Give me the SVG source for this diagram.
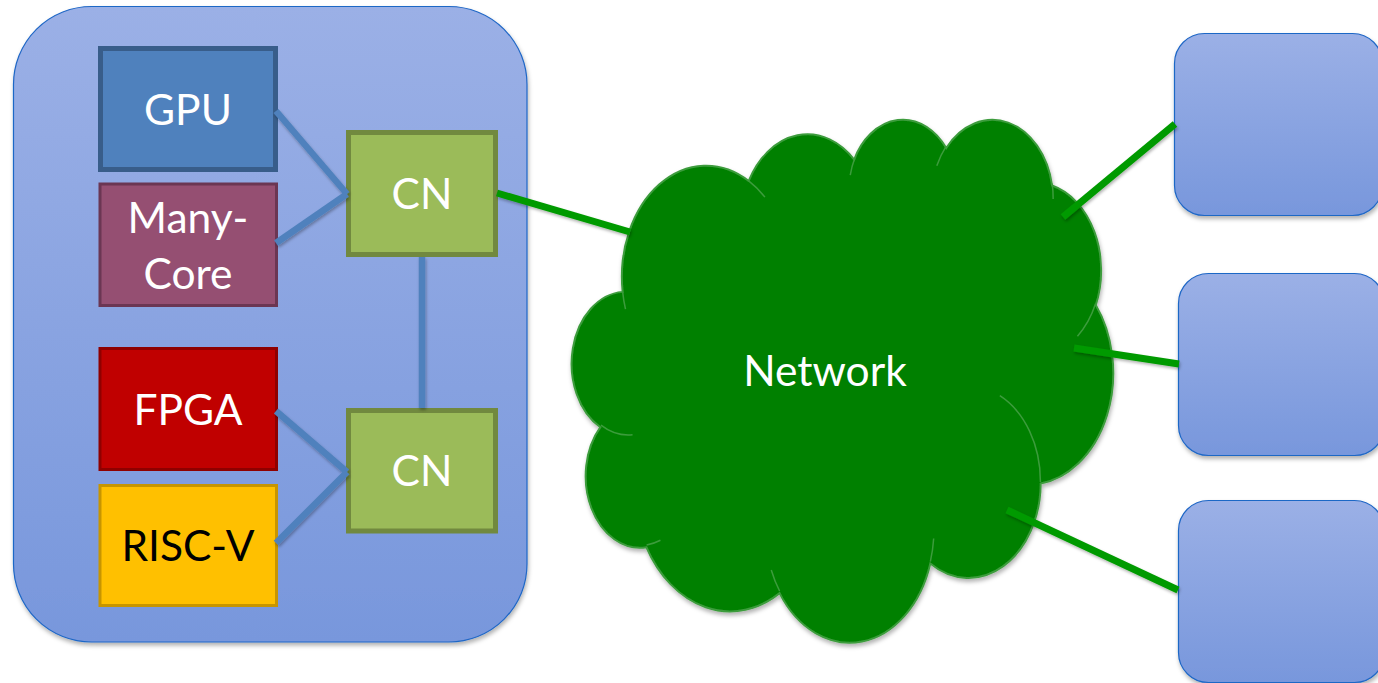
<svg xmlns="http://www.w3.org/2000/svg" width="1378" height="683" viewBox="0 0 1378 683">
  <defs>
    <linearGradient id="blueGrad" x1="0" y1="0" x2="0" y2="1">
      <stop offset="0" stop-color="#9bb0e6"/>
      <stop offset="1" stop-color="#7897dc"/>
    </linearGradient>
    <filter id="sh" filterUnits="userSpaceOnUse" x="0" y="0" width="1378" height="683">
      <feDropShadow dx="1" dy="3" stdDeviation="2.2" flood-color="#000" flood-opacity="0.3"/>
    </filter>
    <filter id="shl" filterUnits="userSpaceOnUse" x="0" y="0" width="1378" height="683">
      <feDropShadow dx="1" dy="2" stdDeviation="1.5" flood-color="#000" flood-opacity="0.3"/>
    </filter>
  </defs>
  <style>
    .lbl { font-family: "Lato", "Carlito", "Liberation Sans", sans-serif; font-size: 42.5px; fill: #ffffff; text-anchor: middle; }
    .dark { fill: #000000; }
    .panel { fill: url(#blueGrad); stroke: #1f67c6; stroke-width: 1.2; }
    .cn { fill: #9bbb59; stroke: #71893f; stroke-width: 5; }
    .blue { stroke: #4f81bd; stroke-width: 6.5; fill: none; }
    .green { stroke: #009a00; stroke-width: 7; fill: none; }
    .cloud { fill: #008000; stroke: #3c9c3c; stroke-width: 2; vector-effect: non-scaling-stroke; }
    .cloudDetail { fill: none; stroke: #3c9c3c; stroke-width: 1.5; vector-effect: non-scaling-stroke; }
  </style>

  <g id="container" filter="url(#sh)">
    <rect class="panel" x="13.5" y="6.5" width="513.5" height="635.5" rx="78" ry="78"/>
  </g>

  <g id="gpu">
    <rect x="100.5" y="48.5" width="175" height="121" fill="#4f81bd" stroke="#385d8a" stroke-width="5"/>
    <text class="lbl" x="188" y="125">GPU</text>
  </g>
  <g id="manycore">
    <rect x="100" y="184" width="176.5" height="121.5" fill="#954f72" stroke="#6b3653" stroke-width="3"/>
    <text class="lbl" x="188" y="233">Many-</text>
    <text class="lbl" x="188" y="289">Core</text>
  </g>
  <g id="fpga">
    <rect x="100" y="348.5" width="176.5" height="121" fill="#c00000" stroke="#8f0000" stroke-width="3"/>
    <text class="lbl" x="188" y="425">FPGA</text>
  </g>
  <g id="riscv">
    <rect x="100" y="485.5" width="176.5" height="120" fill="#ffc000" stroke="#c79500" stroke-width="3"/>
    <text class="lbl dark" x="188" y="561">RISC-V</text>
  </g>
  <g id="cn1">
    <rect class="cn" x="348.5" y="132.5" width="147" height="122"/>
    <text class="lbl" x="422" y="209">CN</text>
  </g>
  <g id="cn2">
    <rect class="cn" x="348.5" y="410.5" width="147" height="120.5"/>
    <text class="lbl" x="422" y="486">CN</text>
  </g>

  <g id="network">
    <g filter="url(#sh)">
      <g transform="translate(574,118) scale(0.012477,0.0121)">
        <path class="cloud" d="M 3900 14370 A 6753 9190 0 0 1 14005 5202 A 5333 7267 0 0 1 22456 3436 A 4365 5945 0 0 1 29833 2484 A 4857 6595 0 0 1 38317 5580 A 5333 7273 0 0 1 41818 15464 A 6775 9220 0 0 1 37403 30206 A 5785 7867 0 0 1 28555 36817 A 6752 9215 0 0 1 16479 39268 A 7720 10543 0 0 1 5804 35476 A 4360 5918 0 0 1 2113 25554 A 4345 5945 0 0 1 3900 14370 Z"/>
      </g>
    </g>
    <g transform="translate(574,118) scale(0.012477,0.0121)">
      <path class="cloudDetail" d="M 4693 26177 A 4345 5945 0 0 1 2160 25380 M 6928 34899 A 4360 5918 0 0 1 5820 35281 M 16478 39090 A 6752 9215 0 0 1 15810 37350 M 28827 34751 A 6752 9215 0 0 1 28560 36660 M 34129 22954 A 5785 7867 0 0 1 37381 30090 M 41798 15354 A 5333 7273 0 0 1 40350 18030 M 38324 5426 A 4857 6595 0 0 1 38401 6690 M 29078 3952 A 4857 6595 0 0 1 29821 2338 M 22141 4720 A 4365 5945 0 0 1 22500 3331 M 14000 5192 A 6753 9190 0 0 1 15300 6541 M 4127 15789 A 6753 9190 0 0 1 3900 14371"/>
    </g>
    <text class="lbl" x="825" y="386">Network</text>
  </g>

  <g id="remote1" filter="url(#sh)">
    <rect class="panel" x="1174.5" y="33.5" width="208" height="182" rx="30" ry="30"/>
  </g>
  <g id="remote2" filter="url(#sh)">
    <rect class="panel" x="1178.5" y="273.5" width="206" height="182" rx="30" ry="30"/>
  </g>
  <g id="remote3" filter="url(#sh)">
    <rect class="panel" x="1178.5" y="500.5" width="206" height="182" rx="30" ry="30"/>
  </g>

  <g id="connectors" filter="url(#shl)">
    <line class="blue" x1="276" y1="111" x2="347" y2="194"/>
    <line class="blue" x1="276" y1="243" x2="347" y2="194"/>
    <line class="blue" x1="422" y1="257" x2="422" y2="408"/>
    <line class="blue" x1="276" y1="411" x2="347" y2="472"/>
    <line class="blue" x1="276" y1="543" x2="347" y2="472"/>
    <line class="green" x1="497" y1="193" x2="630" y2="232"/>
    <line class="green" x1="1063" y1="217" x2="1175" y2="124"/>
    <line class="green" x1="1074" y1="348" x2="1179" y2="364"/>
    <line class="green" x1="1007" y1="510" x2="1178" y2="590"/>
  </g>
</svg>
